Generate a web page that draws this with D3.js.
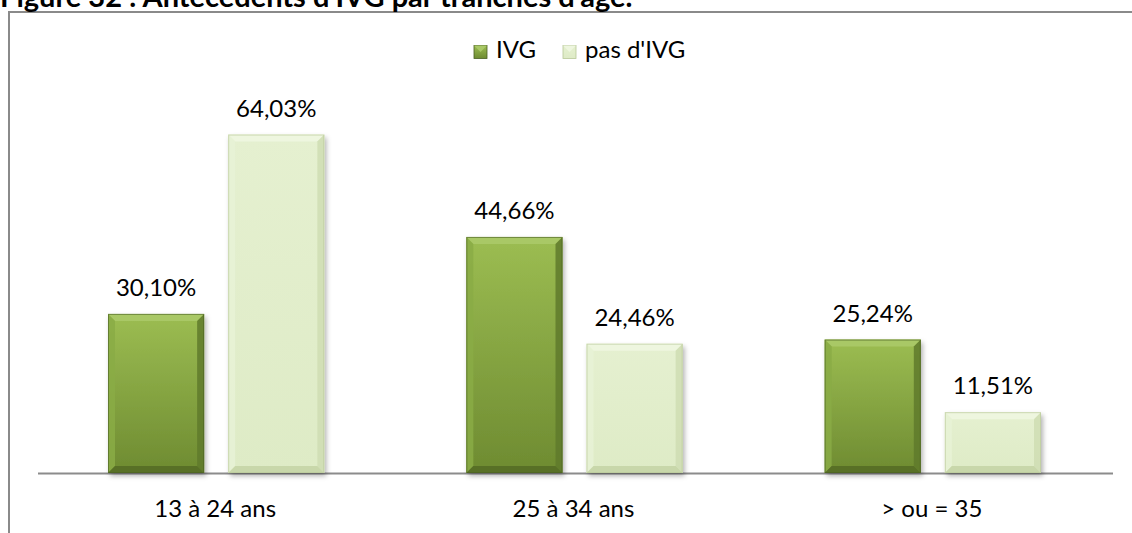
<!DOCTYPE html>
<html>
<head>
<meta charset="utf-8">
<script src="https://cdn.jsdelivr.net/npm/d3@7"></script>
<style>
  html, body { margin: 0; padding: 0; background: #fff; }
  svg { display: block; }
  text { font-family: Lato, "Open Sans", sans-serif; fill: #000; }
</style>
</head>
<body>
<svg id="chart" width="1132" height="533"></svg>
<script>
// Data: share of women by age group, with and without prior abortion (IVG)
const categories = ["13 à 24 ans", "25 à 34 ans", "> ou = 35"];
const seriesNames = ["IVG", "pas d'IVG"];
const ivgValues = [30.10, 44.66, 25.24];
const pasIvgValues = [64.03, 24.46, 11.51];
const titleText = "Figure 32 : Antécédents d'IVG par tranches d'âge.";

const fmt = v => v.toFixed(2).replace(".", ",") + "%";

const svg = d3.select("#chart");
const W = 1132, H = 533;

const plot = { left: 38, right: 1113, top: 103, bottom: 473 };

const x0 = d3.scaleBand().domain(categories).range([plot.left, plot.right]).padding(0);
const x1 = d3.scaleBand().domain(seriesNames)
  .range([70, x0.bandwidth() - 72]).paddingInner(0.2).paddingOuter(0);
const y = d3.scaleLinear().domain([0, 70]).range([plot.bottom, plot.top]);

const defs = svg.append("defs");

// bar styles: base gradient + bevel colours
const styles = {
  "IVG": { top: "#9cbd52", bottom: "#6e8b31", hi: "#a9c866", hiSide: "#8aab45",
           lo: "#556d25", loSide: "#5f7a2b", edge: "#4a5f22" },
  "pas d'IVG": { top: "#e5f0d0", bottom: "#deebc6", hi: "#eef6df", hiSide: "#e8f2d6",
           lo: "#c5d5a6", loSide: "#cfddb3", edge: "#b7c797" }
};

seriesNames.forEach((s, i) => {
  const g = defs.append("linearGradient").attr("id", "grad" + i)
    .attr("x1", 0).attr("y1", 0).attr("x2", 0).attr("y2", 1);
  g.append("stop").attr("offset", "0%").attr("stop-color", styles[s].top);
  g.append("stop").attr("offset", "100%").attr("stop-color", styles[s].bottom);
});

const shadow = defs.append("filter").attr("id", "shadow")
  .attr("x", "-20%").attr("y", "-10%").attr("width", "140%").attr("height", "130%");
shadow.append("feDropShadow").attr("dx", 2).attr("dy", 3).attr("stdDeviation", 2.5)
  .attr("flood-color", "#000").attr("flood-opacity", 0.3);

// frame around the chart area
svg.append("path")
  .attr("d", `M9,${H + 5} L9,12 L${W + 5},12`)
  .attr("fill", "none").attr("stroke", "#8a8a8a").attr("stroke-width", 2);

// title (sits at the very top edge)
svg.append("text")
  .attr("x", 0).attr("y", 7)
  .attr("font-size", 29).attr("font-weight", "bold")
  .text(titleText);

// baseline axis
svg.append("line")
  .attr("x1", plot.left).attr("x2", plot.right)
  .attr("y1", plot.bottom + 0.5).attr("y2", plot.bottom + 0.5)
  .attr("stroke", "#8c8c8c").attr("stroke-width", 2);

const rows = categories.map((c, i) => ({
  cat: c,
  vals: [
    { series: seriesNames[0], idx: 0, value: ivgValues[i] },
    { series: seriesNames[1], idx: 1, value: pasIvgValues[i] }
  ]
}));

function bevelBar(sel, d, x, yTop, w, h) {
  const st = styles[d.series];
  const b = Math.min(7, h / 3);
  const g = sel.append("g");
  g.append("rect").attr("x", x).attr("y", yTop).attr("width", w).attr("height", h)
    .attr("fill", `url(#grad${d.idx})`).attr("filter", "url(#shadow)");
  const x2 = x + w, y2 = yTop + h;
  // top bevel
  g.append("polygon").attr("points",
    `${x},${yTop} ${x2},${yTop} ${x2 - b},${yTop + b} ${x + b},${yTop + b}`)
    .attr("fill", st.hi);
  // left bevel
  g.append("polygon").attr("points",
    `${x},${yTop} ${x + b},${yTop + b} ${x + b},${y2 - b} ${x},${y2}`)
    .attr("fill", st.hiSide).attr("opacity", 0.85);
  // right bevel
  g.append("polygon").attr("points",
    `${x2},${yTop} ${x2},${y2} ${x2 - b},${y2 - b} ${x2 - b},${yTop + b}`)
    .attr("fill", st.loSide).attr("opacity", 0.85);
  // bottom bevel
  g.append("polygon").attr("points",
    `${x},${y2} ${x2},${y2} ${x2 - b},${y2 - b} ${x + b},${y2 - b}`)
    .attr("fill", st.lo).attr("opacity", 0.9);
  g.append("rect").attr("x", x + 0.5).attr("y", yTop + 0.5)
    .attr("width", w - 1).attr("height", h - 1)
    .attr("fill", "none").attr("stroke", st.edge).attr("stroke-width", 1).attr("opacity", 0.6);
}

const groups = svg.append("g").selectAll("g").data(rows).join("g")
  .attr("transform", d => `translate(${x0(d.cat)},0)`);

groups.each(function(r) {
  const gsel = d3.select(this);
  r.vals.forEach(d => {
    const x = x1(d.series), w = x1.bandwidth();
    const yt = y(d.value), h = y(0) - y(d.value);
    bevelBar(gsel, d, x, yt, w, h);
    gsel.append("text")
      .attr("x", x + w / 2).attr("y", yt - 18)
      .attr("text-anchor", "middle").attr("font-size", 24)
      .text(fmt(d.value));
  });
});

// category labels
svg.append("g").selectAll("text").data(categories).join("text")
  .attr("x", d => x0(d) + x0.bandwidth() / 2 - 2)
  .attr("y", 517)
  .attr("text-anchor", "middle").attr("font-size", 24)
  .text(d => d);

// legend
const legend = svg.append("g");
const legendItems = [
  { name: seriesNames[0], x: 474, idx: 0 },
  { name: seriesNames[1], x: 563, idx: 1 }
];
legendItems.forEach(it => {
  const st = styles[it.name];
  const s = 13, lx = it.x, ly = 45.5;
  legend.append("rect").attr("x", lx).attr("y", ly).attr("width", s).attr("height", s)
    .attr("fill", `url(#grad${it.idx})`).attr("stroke", st.edge).attr("stroke-width", 0.8);
  legend.append("polygon")
    .attr("points", `${lx},${ly} ${lx + s},${ly} ${lx + s / 2},${ly + s / 2}`)
    .attr("fill", st.hi);
  legend.append("text").attr("x", lx + 22).attr("y", 58)
    .attr("font-size", 24).text(it.name);
});
</script>
</body>
</html>
